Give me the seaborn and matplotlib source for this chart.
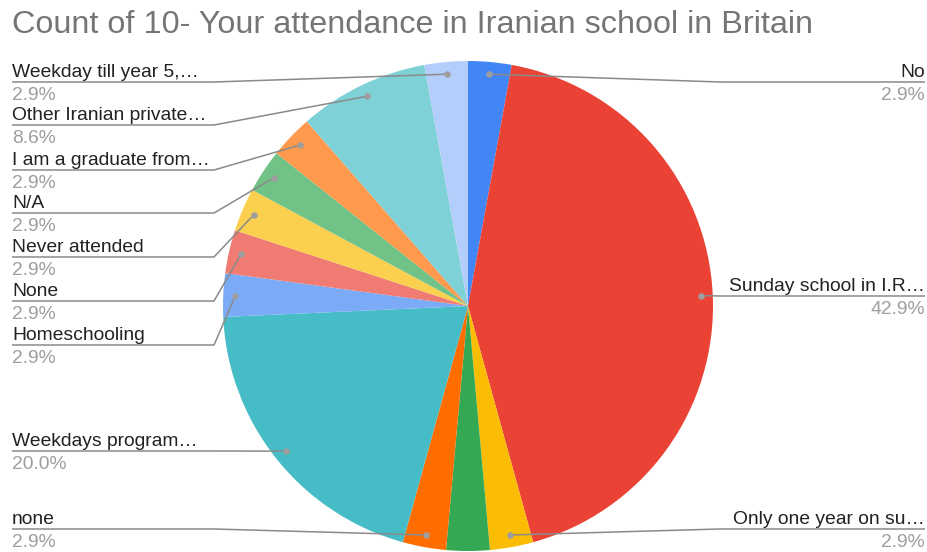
import numpy as np
import matplotlib
matplotlib.use("Agg")
import matplotlib.pyplot as plt
import seaborn as sns

# Responses to question 10 (count of answers per category), clockwise from 12 o'clock
categories = [
    "No",
    "Sunday school in I.R…",
    "Only one year on su…",
    "",
    "none",
    "Weekdays program…",
    "Homeschooling",
    "None",
    "Never attended",
    "N/A",
    "I am a graduate from…",
    "Other Iranian private…",
    "Weekday till year 5,…",
]
counts = [1, 15, 1, 1, 1, 7, 1, 1, 1, 1, 1, 3, 1]
palette = [
    "#4285f4", "#ea4335", "#fbbc04", "#34a853", "#ff6d01", "#46bdc6",
    "#7baaf7", "#f07b72", "#fcd04f", "#71c287", "#ff994d", "#7ed1d7", "#b3cefb",
]
title = "Count of 10- Your attendance in Iranian school in Britain"

# Label leader-line rows (pixel rows of the underline) for each side
left_rows = {
    "Weekday till year 5,…": 82, "Other Iranian private…": 125,
    "I am a graduate from…": 170, "N/A": 213, "Never attended": 257,
    "None": 301, "Homeschooling": 345, "Weekdays program…": 451, "none": 529,
}
right_rows = {"No": 82, "Sunday school in I.R…": 296, "Only one year on su…": 529}

sns.set_theme(style="white")
plt.rcParams["font.family"] = ["Liberation Sans", "DejaVu Sans"]

W, H = 928, 552
fig = plt.figure(figsize=(W / 100, H / 100), dpi=100)
ax = fig.add_axes([0, 0, 1, 1])


def Y(y):
    return H - y


cx, cy, r = 468, 306, 245
ax.pie(counts, colors=palette, startangle=90, counterclock=False,
       center=(cx, Y(cy)), radius=r, frame=True,
       wedgeprops=dict(linewidth=0))
ax.set_xlim(0, W)
ax.set_ylim(0, H)
ax.set_aspect("equal")
ax.axis("off")

total = sum(counts)
cum = np.cumsum(counts)
line_c = "#8a8a8a"
lab_c = "#222222"
pct_c = "#9e9e9e"
fs = 13.9

for name, c, end in zip(categories, counts, cum):
    if not name:
        continue
    theta = np.deg2rad((end - c / 2) / total * 360)
    dx = cx + 0.95 * r * np.sin(theta)
    dy = cy - 0.95 * r * np.cos(theta)
    pct = f"{c / total * 100:.1f}%"
    if name in left_rows:
        ly = left_rows[name]
        ax.plot([12, 214, dx], [Y(ly), Y(ly), Y(dy)], color=line_c, lw=1.1,
                solid_capstyle="butt", zorder=3)
        ax.text(12, Y(ly - 5), name, ha="left", va="baseline", fontsize=fs, color=lab_c)
        ax.text(12, Y(ly + 18), pct, ha="left", va="baseline", fontsize=fs, color=pct_c)
    else:
        ly = right_rows[name]
        ax.plot([925, 720, dx], [Y(ly), Y(ly), Y(dy)], color=line_c, lw=1.1,
                solid_capstyle="butt", zorder=3)
        ax.text(925, Y(ly - 5), name, ha="right", va="baseline", fontsize=fs, color=lab_c)
        ax.text(925, Y(ly + 18), pct, ha="right", va="baseline", fontsize=fs, color=pct_c)
    ax.scatter([dx], [Y(dy)], s=22, color="#9e9e9e", zorder=4, linewidths=0)

ax.text(12, Y(33), title, ha="left", va="baseline", fontsize=23.3, color="#757575")

fig.savefig("out.png", dpi=100)
